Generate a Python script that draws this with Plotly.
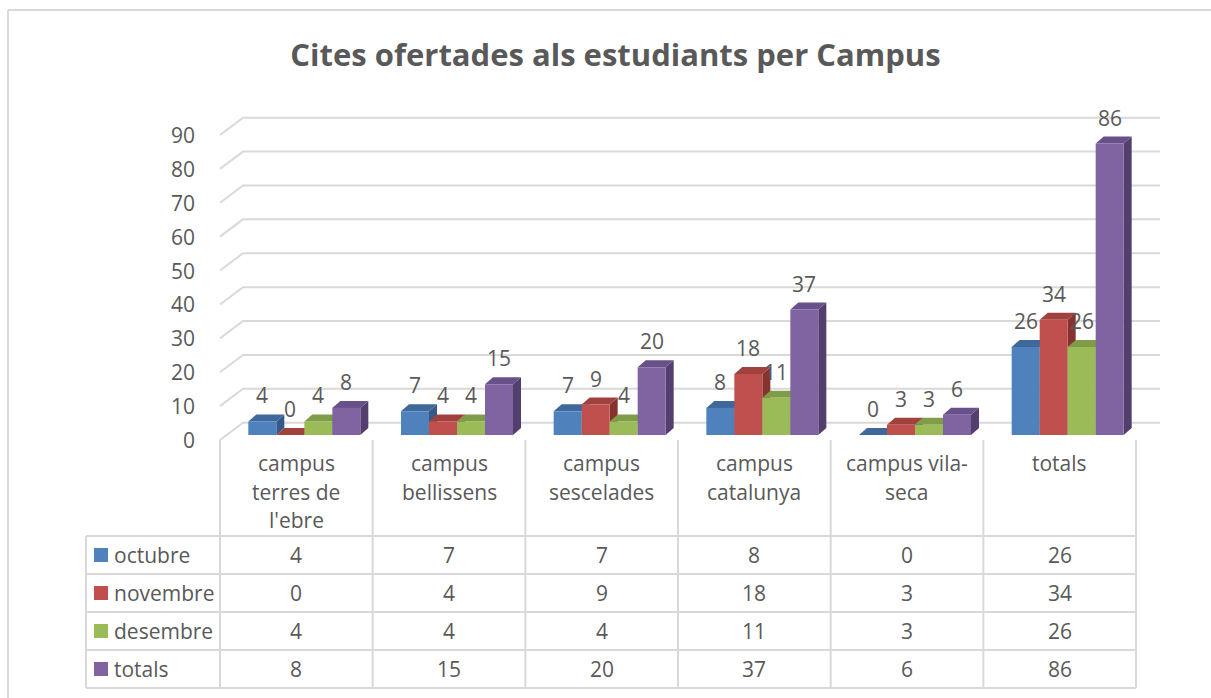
import plotly.graph_objects as go

# ---------------- data ----------------
categories = ["campus<br>terres de<br>l'ebre", "campus<br>bellissens", "campus<br>sescelades",
              "campus<br>catalunya", "campus vila-<br>seca", "totals"]
series_names = ["octubre", "novembre", "desembre", "totals"]
octubre = [4, 7, 7, 8, 0, 26]
novembre = [0, 4, 9, 18, 3, 34]
desembre = [4, 4, 4, 11, 3, 26]
totals = [8, 15, 20, 37, 6, 86]
series_values = [octubre, novembre, desembre, totals]
y_ticks = [0, 10, 20, 30, 40, 50, 60, 70, 80, 90]
title_text = "Cites ofertades als estudiants per Campus"

# ---------------- styles ----------------
front_colors = ["#4F81BD", "#C0504D", "#9BBB59", "#8064A2"]
top_colors = ["#40699B", "#A1413E", "#7F9C48", "#68508A"]
side_colors = ["#37598A", "#86322F", "#6E893E", "#533F6E"]
TEXT = "#595959"
GRID = "#D9D9D9"
FONT = "Open Sans"
FS = 21

W, H = 1211, 698
CW = 152.67          # px per category column
C0 = 296.33          # px of first category centre
S = 3.389            # px per value unit
Y0 = 435.0           # py of zero (bar plane)
BAR_PX = 28.0
GROUP_LEFT_PX = -48.0
DX_PX, DY_PX = 8.0, 7.0

xr0 = -C0 / CW
xr1 = xr0 + W / CW
yr0 = -(H - Y0) / S
yr1 = yr0 + H / S

def pxx(px):
    return px / W

def pyy(py):
    return 1 - py / H

bw = BAR_PX / CW
dx = DX_PX / CW
dy = DY_PX / S

fig = go.Figure()
shapes = []
annotations = []

# outer chart border (visible top and left edges)
shapes.append(dict(type="line", xref="paper", yref="paper", x0=pxx(8), x1=pxx(1215),
                   y0=pyy(10), y1=pyy(10), line=dict(color=GRID, width=2)))
shapes.append(dict(type="line", xref="paper", yref="paper", x0=pxx(8), x1=pxx(8),
                   y0=pyy(10), y1=pyy(705), line=dict(color=GRID, width=2)))

# gridlines (back wall with diagonal front ends)
for v in y_ticks:
    yf = v - 5.0 / S
    yb = v + 12.3 / S
    shapes.append(dict(type="path", xref="paper", yref="y", layer="below",
                       path=f"M {pxx(220)},{yf} L {pxx(243)},{yb} L {pxx(1160)},{yb}",
                       line=dict(color=GRID, width=2)))
    annotations.append(dict(x=pxx(197), y=v, xref="paper", yref="y", yshift=-5,
                            text=str(v), showarrow=False, xanchor="right", yanchor="middle",
                            font=dict(family=FONT, size=FS, color=TEXT)))

# 3D faces (top + side) and bars
for k, (name, vals) in enumerate(zip(series_names, series_values)):
    off = (GROUP_LEFT_PX + BAR_PX * k) / CW
    for i, v in enumerate(vals):
        x0 = i + off
        x1 = x0 + bw
        shapes.append(dict(type="path", xref="x", yref="y", layer="below",
                           path=f"M {x1},0 L {x1+dx},{dy} L {x1+dx},{v+dy} L {x1},{v} Z",
                           fillcolor=side_colors[k], line=dict(width=0)))
        shapes.append(dict(type="path", xref="x", yref="y", layer="below",
                           path=f"M {x0},{v} L {x1},{v} L {x1+dx},{v+dy} L {x0+dx},{v+dy} Z",
                           fillcolor=top_colors[k], line=dict(width=0)))
        annotations.append(dict(x=x0 + bw / 2, y=v, xref="x", yref="y", yshift=26,
                                text=str(v), showarrow=False, xanchor="center", yanchor="middle",
                                font=dict(family=FONT, size=FS, color=TEXT)))
    fig.add_trace(go.Bar(x=list(range(len(vals))), y=vals, base=0, offset=off, width=bw,
                         name=name, marker=dict(color=front_colors[k], line=dict(width=0)),
                         showlegend=False, hoverinfo="skip"))

# data table grid
ROW_TOP = 536.0
ROW_H = 38.0
TABLE_LEFT = 86.0
COL_LEFT = 220.0
n_cols = len(categories)
table_right = COL_LEFT + n_cols * CW
for r in range(len(series_names) + 1):
    py = ROW_TOP + r * ROW_H
    shapes.append(dict(type="line", xref="paper", yref="paper", x0=pxx(TABLE_LEFT), x1=pxx(table_right),
                       y0=pyy(py), y1=pyy(py), line=dict(color=GRID, width=2)))
shapes.append(dict(type="line", xref="paper", yref="paper", x0=pxx(TABLE_LEFT), x1=pxx(TABLE_LEFT),
                   y0=pyy(ROW_TOP), y1=pyy(ROW_TOP + 4 * ROW_H), line=dict(color=GRID, width=2)))
for j in range(n_cols + 1):
    px = COL_LEFT + j * CW
    shapes.append(dict(type="line", xref="paper", yref="paper", x0=pxx(px), x1=pxx(px),
                       y0=pyy(440), y1=pyy(ROW_TOP + 4 * ROW_H), line=dict(color=GRID, width=2)))

# category labels
for i, cat in enumerate(categories):
    for li, line in enumerate(cat.split("<br>")):
        annotations.append(dict(x=i, y=pyy(463 + li * 28.5), xref="x", yref="paper",
                                text=line, showarrow=False, xanchor="center", yanchor="middle",
                                font=dict(family=FONT, size=FS, color=TEXT)))

# table rows
for r, (name, vals) in enumerate(zip(series_names, series_values)):
    cy = ROW_TOP + r * ROW_H + ROW_H / 2
    shapes.append(dict(type="rect", xref="paper", yref="paper", x0=pxx(94), x1=pxx(108),
                       y0=pyy(cy - 7), y1=pyy(cy + 7), fillcolor=front_colors[r], line=dict(width=0)))
    annotations.append(dict(x=pxx(112), y=pyy(cy), xref="paper", yref="paper", text=name,
                            showarrow=False, xanchor="left", yanchor="middle",
                            font=dict(family=FONT, size=FS, color=TEXT)))
    for i, v in enumerate(vals):
        annotations.append(dict(x=i, y=pyy(cy), xref="x", yref="paper", text=str(v),
                                showarrow=False, xanchor="center", yanchor="middle",
                                font=dict(family=FONT, size=FS, color=TEXT)))

fig.update_layout(
    width=W, height=H,
    margin=dict(l=0, r=0, t=0, b=0, autoexpand=False),
    paper_bgcolor="white", plot_bgcolor="rgba(0,0,0,0)",
    barmode="overlay",
    title=dict(text=title_text, x=0.5 * (293 + 938) / W, xanchor="center", y=pyy(55), yanchor="middle",
               font=dict(family=FONT, size=31, color=TEXT, weight="bold")),
    xaxis=dict(range=[xr0, xr1], domain=[0, 1], visible=False, fixedrange=True),
    yaxis=dict(range=[yr0, yr1], domain=[0, 1], visible=False, fixedrange=True),
    shapes=shapes,
    annotations=annotations,
    showlegend=False,
)

fig.write_html("out.html", config={"displayModeBar": False},
               post_script="document.body.style.margin='0';document.body.style.overflow='hidden';")
